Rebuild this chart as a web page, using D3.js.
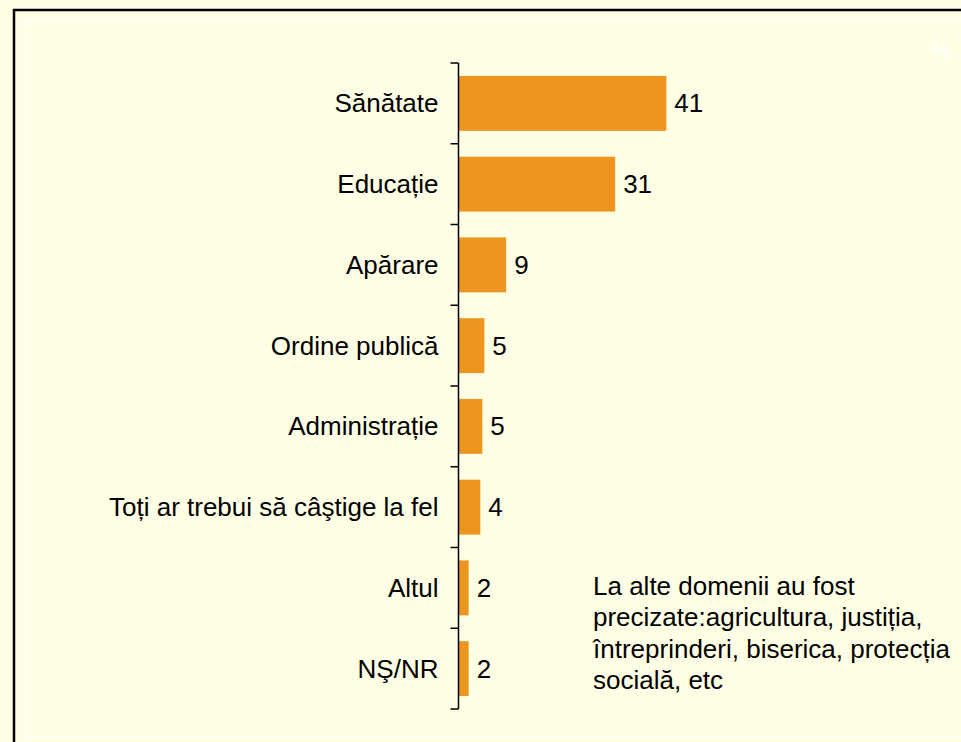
<!DOCTYPE html>
<html>
<head>
<meta charset="utf-8">
<script src="https://cdn.jsdelivr.net/npm/d3@7"></script>
<style>
  html, body { margin: 0; padding: 0; background: #ffffe6; }
  svg { display: block; }
  text { font-family: "Liberation Sans", Arial, sans-serif; }
</style>
</head>
<body>
<svg id="chart" width="961" height="742"></svg>
<script>
const categories = ["Sănătate", "Educație", "Apărare", "Ordine publică", "Administrație",
  "Toți ar trebui să câştige la fel", "Altul", "NŞ/NR"];
const values = [41, 30.9, 9.4, 5.1, 4.7, 4.3, 2, 2];
const noteLines = ["La alte domenii au fost", "precizate:agricultura, justiția,",
  "întreprinderi, biserica, protecția", "socială, etc"];
const unitLabel = "%";

const W = 961, H = 742;
const svg = d3.select("#chart");
const bg = "#ffffe6", barColor = "#ed951f";

svg.append("rect").attr("x", 0).attr("y", 0).attr("width", W).attr("height", H).attr("fill", bg);
// outer black frame
svg.append("rect").attr("x", 14).attr("y", 10).attr("width", W + 20).attr("height", H + 20)
  .attr("fill", "none").attr("stroke", "#000").attr("stroke-width", 2.5);
// inner white frame
svg.append("rect").attr("x", 24.5).attr("y", 20.5).attr("width", W + 20).attr("height", 716.5)
  .attr("fill", "none").attr("stroke", "#ffffff").attr("stroke-width", 1.6);

const axisX = 458.5;
const y = d3.scaleBand().domain(categories).range([63, 709]).paddingInner(0.32).paddingOuter(0.16);
const x = d3.scaleLinear().domain([0, 100]).range([axisX, axisX + 507]);

// bars
svg.append("g").selectAll("rect").data(categories).join("rect")
  .attr("x", x(0))
  .attr("y", d => y(d))
  .attr("width", (d, i) => x(values[i]) - x(0))
  .attr("height", y.bandwidth())
  .attr("fill", barColor);

// axis with ticks at category boundaries
const step = y.step();
const boundaries = d3.range(categories.length + 1).map(i => 63 + i * (709 - 63) / categories.length);
const axisG = svg.append("g");
axisG.append("line").attr("x1", axisX).attr("x2", axisX).attr("y1", 63).attr("y2", 709)
  .attr("stroke", "#000").attr("stroke-width", 1.5);
axisG.selectAll("line.tick").data(boundaries).join("line").attr("class", "tick")
  .attr("x1", axisX - 8).attr("x2", axisX).attr("y1", d => d).attr("y2", d => d)
  .attr("stroke", "#000").attr("stroke-width", 1.5);

// category labels
svg.append("g").selectAll("text").data(categories).join("text")
  .attr("x", axisX - 20)
  .attr("y", d => y(d) + y.bandwidth() / 2)
  .attr("dy", "0.35em")
  .attr("text-anchor", "end")
  .attr("font-size", 26)
  .attr("fill", "#000")
  .text(d => d);

// value labels
const fmt = d3.format(".0f");
svg.append("g").selectAll("text").data(categories).join("text")
  .attr("x", (d, i) => x(values[i]) + 8)
  .attr("y", d => y(d) + y.bandwidth() / 2)
  .attr("dy", "0.35em")
  .attr("font-size", 26)
  .attr("fill", "#000")
  .text((d, i) => fmt(values[i]));

// note
const note = svg.append("text").attr("font-size", 26).attr("fill", "#000");
note.selectAll("tspan").data(noteLines).join("tspan")
  .attr("x", 593).attr("y", (d, i) => 595 + i * 31.3).text(d => d);

// faint unit label
svg.append("text").attr("x", 941).attr("y", 58).attr("text-anchor", "middle")
  .attr("font-size", 22).attr("fill", "#ffffff").text(unitLabel);
</script>
</body>
</html>
